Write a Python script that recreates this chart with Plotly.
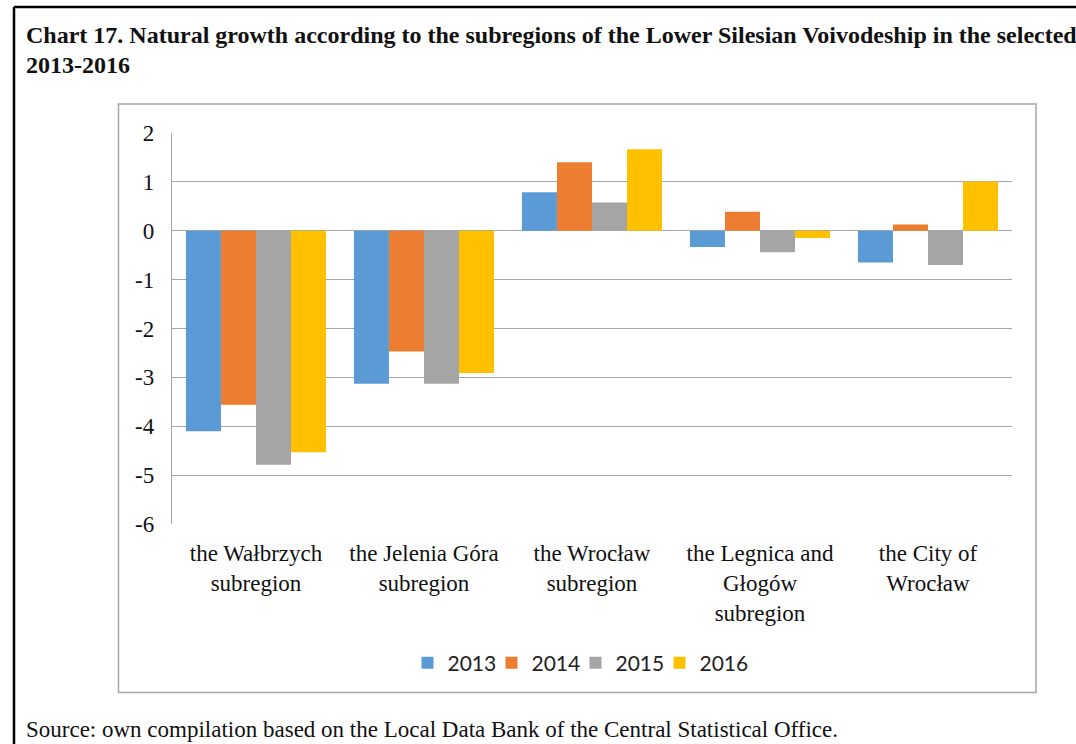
import plotly.graph_objects as go

categories = [
    "the Wałbrzych<br>subregion",
    "the Jelenia Góra<br>subregion",
    "the Wrocław<br>subregion",
    "the Legnica and<br>Głogów<br>subregion",
    "the City of<br>Wrocław",
]
years = ["2013", "2014", "2015", "2016"]
v2013 = [-4.10, -3.13, 0.79, -0.33, -0.65]
v2014 = [-3.56, -2.47, 1.40, 0.39, 0.13]
v2015 = [-4.79, -3.13, 0.58, -0.44, -0.70]
v2016 = [-4.53, -2.91, 1.67, -0.15, 1.01]
series = [v2013, v2014, v2015, v2016]
colors = ["#5B9BD5", "#ED7D31", "#A5A5A5", "#FFC000"]
y_ticks = [2, 1, 0, -1, -2, -3, -4, -5, -6]

title_line1 = "Chart 17. Natural growth according to the subregions of the Lower Silesian Voivodeship in the selected"
title_line2 = "2013-2016"
source_text = "Source: own compilation based on the Local Data Bank of the Central Statistical Office."

W, H = 1076, 744
L, R, T, B = 172, 1012, 133, 524  # plot area in pixels


def px(x):
    return (x - L) / (R - L)


def py(y):
    return (B - y) / (B - T)


fig = go.Figure()
for i, (name, vals, col) in enumerate(zip(years, series, colors)):
    fig.add_trace(go.Bar(
        x=categories, y=vals, name=name,
        marker=dict(color=col, line=dict(width=0)),
        legendwidth=48 if i == len(years) - 1 else None,
    ))

serif = "Liberation Serif, Times New Roman, serif"

fig.update_layout(
    width=W, height=H,
    margin=dict(l=L, r=W - R, t=T, b=H - B),
    paper_bgcolor="white", plot_bgcolor="white",
    barmode="group", bargap=0.166, bargroupgap=0,
    font=dict(family=serif, size=23, color="#111111"),
    showlegend=True,
    legend=dict(
        orientation="h", x=px(580), xanchor="center",
        y=py(663), yanchor="middle",
        font=dict(family="Lato, Open Sans, sans-serif", size=21, color="#222222"),
        itemwidth=30, tracegroupgap=0, entrywidth=39,
        bgcolor="rgba(0,0,0,0)",
    ),
    xaxis=dict(
        showgrid=False, showline=False, ticks="",
        tickfont=dict(family=serif, size=23, color="#111111"),
        ticklabelstandoff=13,
    ),
    yaxis=dict(
        range=[-6, 2], tickvals=y_ticks, ticktext=[str(t) for t in y_ticks],
        showgrid=True, gridcolor="#A6A6A6", gridwidth=1.3,
        zeroline=True, zerolinecolor="#A6A6A6", zerolinewidth=1.3,
        showline=True, linecolor="#A6A6A6", linewidth=1.3,
        ticks="", ticklabelstandoff=12,
        tickfont=dict(family=serif, size=23, color="#111111"),
    ),
)

shapes = [
    # chart area border
    dict(type="rect", xref="paper", yref="paper",
         x0=px(118.5), x1=px(1036), y0=py(104), y1=py(692.5),
         line=dict(color="#A6A6A6", width=1.5), fillcolor="rgba(0,0,0,0)", layer="below"),
    # outer document frame
    dict(type="line", xref="paper", yref="paper",
         x0=px(14), x1=px(14), y0=py(7), y1=py(760),
         line=dict(color="black", width=2.5)),
    dict(type="line", xref="paper", yref="paper",
         x0=px(14), x1=px(1090), y0=py(7), y1=py(7),
         line=dict(color="black", width=2.5)),
]
fig.update_layout(shapes=shapes)

annotations = [
    dict(text="<b>" + title_line1 + "</b>", x=px(24), y=py(35), xref="paper", yref="paper",
         xanchor="left", yanchor="middle", showarrow=False,
         font=dict(family=serif, size=24, color="#111111")),
    dict(text="<b>" + title_line2 + "</b>", x=px(24), y=py(65), xref="paper", yref="paper",
         xanchor="left", yanchor="middle", showarrow=False,
         font=dict(family=serif, size=24, color="#111111")),
    dict(text=source_text, x=px(24), y=py(729), xref="paper", yref="paper",
         xanchor="left", yanchor="middle", showarrow=False,
         font=dict(family=serif, size=23, color="#111111")),
]
fig.update_layout(annotations=annotations)

fig.write_html(
    "out.html",
    config={"displayModeBar": False},
    post_script="document.body.style.margin='0';document.body.style.overflow='hidden';",
)
